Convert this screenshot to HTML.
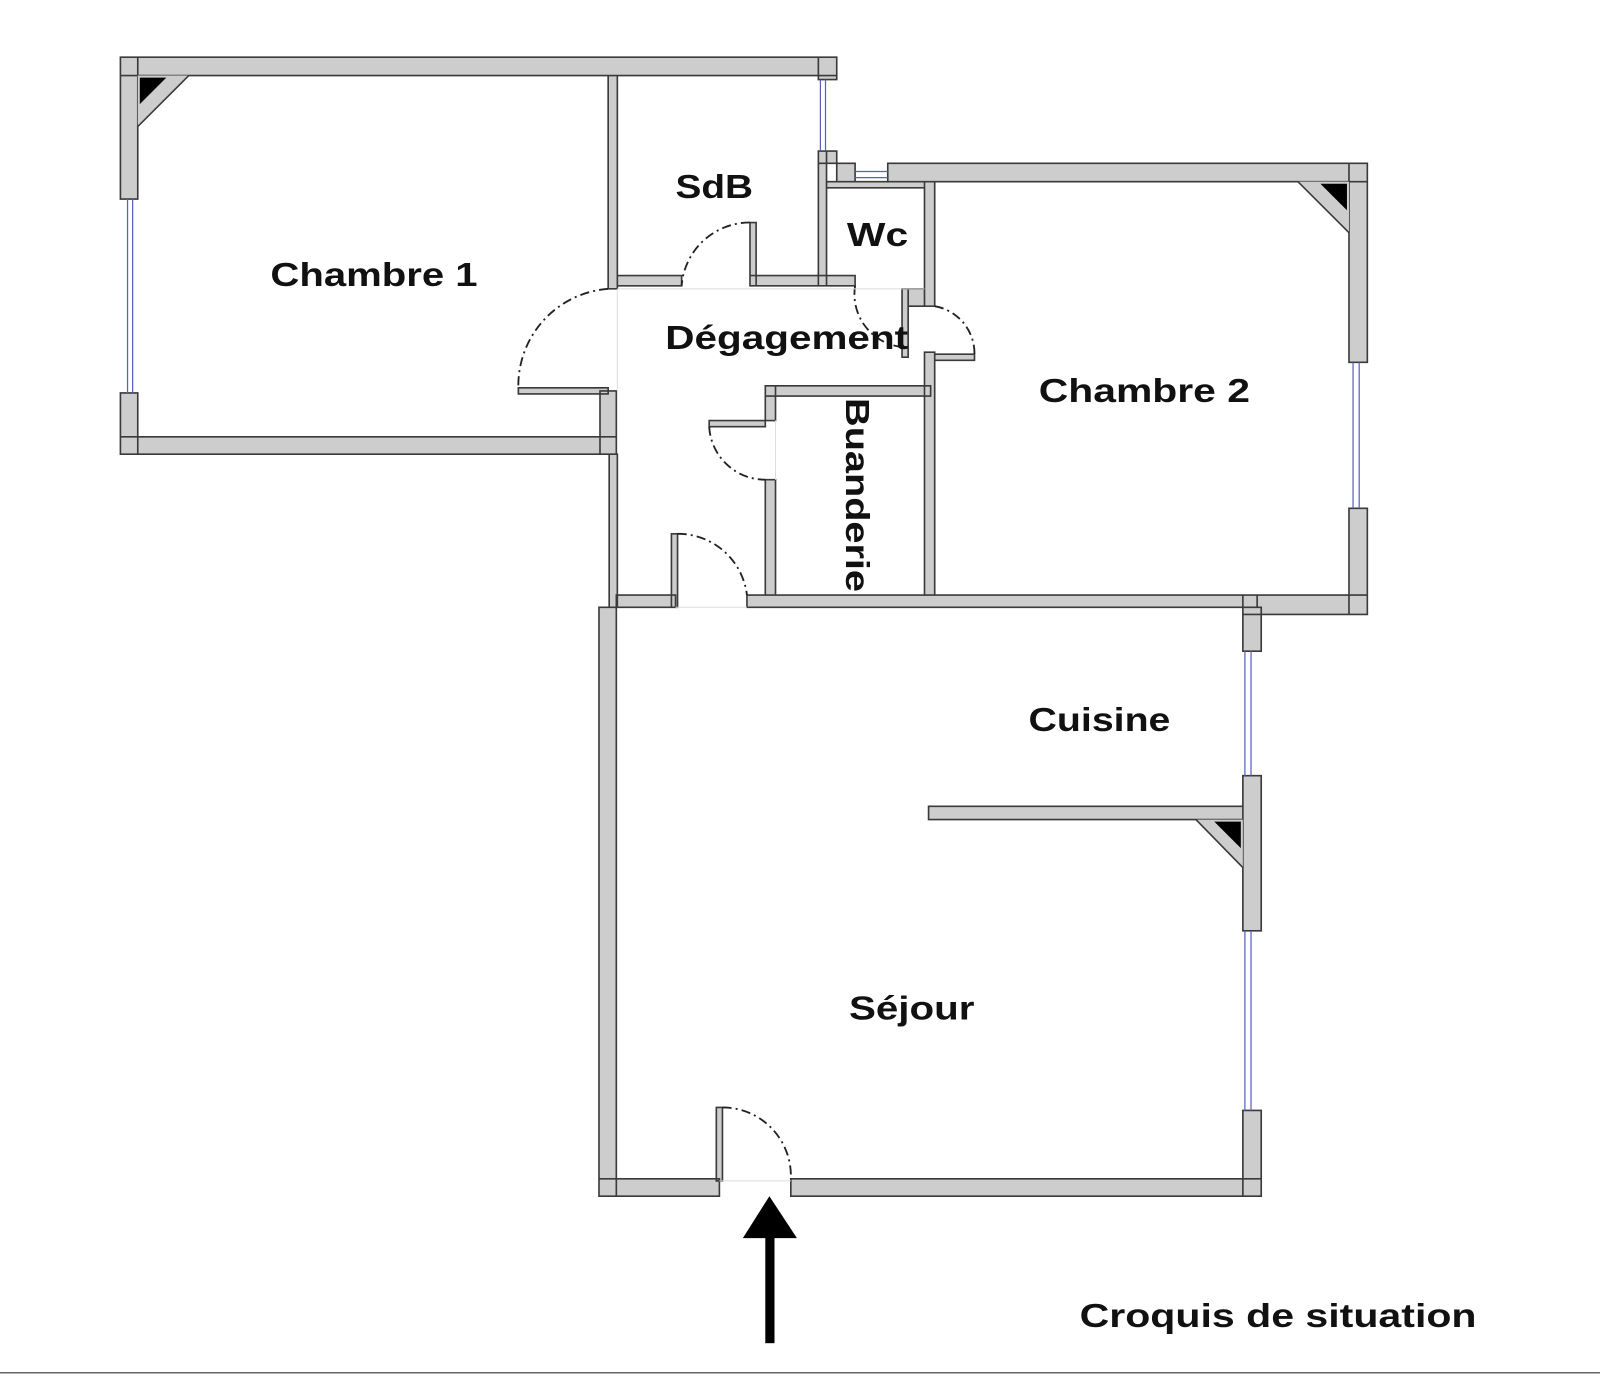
<!DOCTYPE html>
<html><head><meta charset="utf-8"><style>
html,body{margin:0;padding:0;background:#fff}
svg{display:block}
text{font-family:"Liberation Sans",sans-serif;font-weight:bold;fill:#111}
</style></head><body>
<svg width="1600" height="1383" viewBox="0 0 1568 1355" preserveAspectRatio="none" xmlns="http://www.w3.org/2000/svg">
<path fill="#cdcdcd" stroke="#3a3a3a" stroke-width="1.6" d="
M118 56h702v18h-702z M802 56h18v22h-18z M118 56h17v139h-17z M118 385h17v60h-17z
M118 428h486v17h-486z M596 74h9v209h-9z M588 383h16v62h-16z M597 445h8v150h-8z
M587 595h17v577h-17z M802 148h8v132h-8z M802 148h18v12h-18z M820 160h18v18h-18z
M870 160h470v18h-470z M1322 160h18v195h-18z M1322 498h18v104h-18z M1218 583h122v19h-122z
M1218 595h18v43h-18z M1218 760h18v152h-18z M1218 1088h18v84h-18z M587 1155h118v17h-118z
M775 1155h461v17h-461z M604 583h58v12h-58z M732 583h500v12h-500z M750 378h162v10h-162z
M750 378h10v34h-10z M750 470h10v113h-10z M906 345h10v238h-10z M906 178h10v122h-10z
M810 178h96v6h-96z M802 270h36v10h-36z M890 283h16v17h-16z M605 270h63v10h-63z
M735 270h67v10h-67z M910 790h308v13h-308z M658 523h6v72h-6z M695 412h55v6h-55z
M735 218h6v62h-6z M884 283h6v67h-6z M916 347h39v6h-39z M508 380h88v6h-88z M702 1085h6v72h-6z"/>
<path fill="#cdcdcd" d="M135 74h50l-50 50z M1322 178h-50l50 50z M1218 803h-46l46 47z"/>
<path fill="none" stroke="#3a3a3a" stroke-width="1.6" d="M185 74l-50 50 M1272 178l50 50 M1172 803l46 47"/>
<path fill="#000" d="M137 76h26l-26 26z M1320 180h-26l26 26z M1216 805h-26l26 26z"/>
<path fill="none" stroke="#5560c0" stroke-width="1.2" d="M125 195v190 M130 195v190 M804 78v70 M809 78v70 M838 168h32 M838 174h32 M1326 355v143 M1332 355v143 M1220 638v122 M1226 638v122 M1220 912v176 M1226 912v176"/>
<path fill="none" stroke="#222" stroke-width="1.8" stroke-dasharray="9,4,2,4" d="M664 523A68 68 0 0 1 732 583 M695 418A55 55 0 0 0 750 470 M735 218A67 67 0 0 0 668 280 M838 280A52 52 0 0 0 884 340 M916 300A47 47 0 0 1 955 347 M596 283A95 95 0 0 0 508 380 M708 1085A67 67 0 0 1 775 1155"/>
<path fill="none" stroke="#ddd" stroke-width="1" d="M605 283h301 M605 283v100 M760 412v58 M662 595h70 M705 1157h70"/>
<rect x="750" y="1205" width="9" height="111" fill="#000"/>
<polygon points="728,1213 781,1213 754,1172" fill="#000"/>
<path stroke="#666" stroke-width="1.5" d="M0 1345h1568"/>
<g font-size="33">
<text x="265" y="280" textLength="203" lengthAdjust="spacingAndGlyphs">Chambre 1</text>
<text x="662" y="194" textLength="76" lengthAdjust="spacingAndGlyphs">SdB</text>
<text x="830" y="241" textLength="60" lengthAdjust="spacingAndGlyphs">Wc</text>
<text x="652" y="342" textLength="238" lengthAdjust="spacingAndGlyphs">Dégagement</text>
<text x="1018" y="394" textLength="207" lengthAdjust="spacingAndGlyphs">Chambre 2</text>
<text x="1008" y="716" textLength="139" lengthAdjust="spacingAndGlyphs">Cuisine</text>
<text x="832" y="999" textLength="123" lengthAdjust="spacingAndGlyphs">Séjour</text>
<text x="1058" y="1300" textLength="389" lengthAdjust="spacingAndGlyphs">Croquis de situation</text>
<text transform="translate(829,390) rotate(90)" textLength="190" lengthAdjust="spacingAndGlyphs">Buanderie</text>
</g>
</svg>
</body></html>
